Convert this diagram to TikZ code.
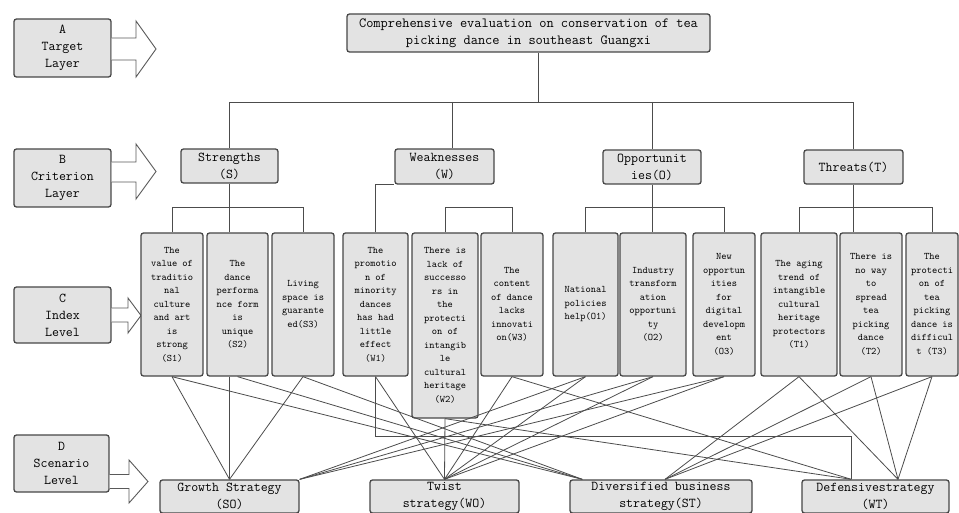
\documentclass[tikz,border=0pt]{standalone}
\usetikzlibrary{calc}
\begin{document}
\begin{tikzpicture}[x=1pt,y=-1pt,
  bx/.style={draw=black!72, fill=black!11, line width=1.3pt, rounded corners=2.5pt, inner sep=0pt, align=center},
  big/.style={bx, font=\ttfamily\fontsize{13.5}{17}\selectfont},
  ibox/.style={bx, font=\ttfamily\fontsize{10}{13.5}\selectfont, minimum height=143pt},
  ln/.style={draw=black!70, line width=0.8pt},
  blk/.style={draw=black!65, fill=white, line width=0.9pt, line join=miter}]
\useasboundingbox (0,0) rectangle (959,513);
% layer labels
\node[big, minimum width=97pt, minimum height=58pt] (la) at (62.5,48) {A\\Target\\Layer};
\node[big, minimum width=97pt, minimum height=58pt] (lb) at (62.5,178) {B\\Criterion\\Layer};
\node[big, minimum width=97pt, minimum height=56pt] (lc) at (62.5,315) {C\\Index\\Level};
\node[big, minimum width=95pt, minimum height=57pt] (ld) at (61.5,463.5) {D\\Scenario\\Level};
% block arrows
\draw[blk] (la.east |- 0,38) -- (136,38) -- (136,21) -- (156,49) -- (136,77) -- (136,60) -- (la.east |- 0,60);
\draw[blk] (lb.east |- 0,162) -- (136,162) -- (136,144) -- (156,171.5) -- (136,199) -- (136,182) -- (lb.east |- 0,182);
\draw[blk] (lc.east |- 0,308) -- (128,308) -- (128,298) -- (141,315.5) -- (128,333) -- (128,322) -- (lc.east |- 0,322);
\draw[blk] (ld.east |- 0,474.5) -- (129,474.5) -- (129,460) -- (148,481.5) -- (129,503) -- (129,488.5) -- (ld.east |- 0,488.5);
% target
\node[big, font=\ttfamily\fontsize{14}{17}\selectfont, minimum width=363pt, minimum height=38pt] (top) at (528.5,33) {Comprehensive evaluation on conservation of tea\\picking dance in southeast Guangxi};
% criteria
\node[big, minimum width=97pt, minimum height=34pt] (crS) at (229.5,166) {Strengths\\(S)};
\node[big, minimum width=99pt, minimum height=35pt] (crW) at (444.5,166.5) {Weaknesses\\(W)};
\node[big, minimum width=98pt, minimum height=34pt] (crO) at (652,167) {Opportunit\\ies(O)};
\node[big, minimum width=99pt, minimum height=34pt] (crT) at (853.5,167) {Threats(T)};
% index boxes
\node[ibox, minimum width=62pt] (s1) at (172,304.5) {The\\value of\\traditio\\nal\\culture\\and art\\is\\strong\\(S1)};
\node[ibox, minimum width=61pt] (s2) at (237.5,304.5) {The\\dance\\performa\\nce form\\is\\unique\\(S2)};
\node[ibox, minimum width=62pt] (s3) at (303,304.5) {Living\\space is\\guarante\\ed(S3)};
\node[ibox, minimum width=65pt] (w1) at (375.5,304.5) {The\\promotio\\n of\\minority\\dances\\has had\\little\\effect\\(W1)};
\node[ibox, minimum width=66pt, minimum height=185pt] (w2) at (445,325.5) {There is\\lack of\\successo\\rs in\\the\\protecti\\on of\\intangib\\le\\cultural\\heritage\\(W2)};
\node[ibox, minimum width=62pt] (w3) at (512,304.5) {The\\content\\of dance\\lacks\\innovati\\on(W3)};
\node[ibox, minimum width=65pt] (o1) at (585.5,304.5) {National\\policies\\help(O1)};
\node[ibox, minimum width=66pt] (o2) at (653,304.5) {Industry\\transform\\ation\\opportuni\\ty\\(O2)};
\node[ibox, minimum width=62pt] (o3) at (724,304.5) {New\\opportun\\ities\\for\\digital\\developm\\ent\\(O3)};
\node[ibox, minimum width=76pt] (t1) at (799,304.5) {The aging\\trend of\\intangible\\cultural\\heritage\\protectors\\(T1)};
\node[ibox, minimum width=62pt] (t2) at (871,304.5) {There is\\no way\\to\\spread\\tea\\picking\\dance\\(T2)};
\node[ibox, minimum width=52pt] (t3) at (932,304.5) {The\\protecti\\on of\\tea\\picking\\dance is\\difficul\\t (T3)};
% scenario boxes
\node[big, minimum width=139pt, minimum height=33pt] (so) at (229.5,496.5) {Growth Strategy\\(SO)};
\node[big, minimum width=149pt, minimum height=33pt] (wo) at (444.5,496.5) {Twist\\strategy(WO)};
\node[big, minimum width=182pt, minimum height=33pt] (st) at (661,496.5) {Diversified business\\strategy(ST)};
\node[big, minimum width=147pt, minimum height=33pt] (wt) at (875.5,496.5) {Defensivestrategy\\(WT)};
% helper coordinates
\coordinate (hb) at (0,102);
\coordinate (sb) at (0,207);
\coordinate (ob) at (0,436);
\coordinate (topx) at ($(top.south)+(9.5,0)$);
\coordinate (wx) at ($(crW.north)+(7.5,0)$);
\coordinate (soA) at (so.north);
\coordinate (soB) at (so.north east);
\coordinate (woA) at (wo.north);
\coordinate (stA) at ($(st.north west)+(13,0)$);
\coordinate (stB) at ($(st.north)+(4,0)$);
\coordinate (wtA) at ($(wt.north west)+(50,0)$);
\coordinate (wtB) at ($(wt.north)+(22.5,0)$);
% tree connectors
\draw[ln] (topx) -- (topx |- hb);
\draw[ln] (crS.north) -- (crS.north |- hb) -- (crT.north |- hb) -- (crT.north);
\draw[ln] (wx |- hb) -- (wx);
\draw[ln] (crO.north |- hb) -- (crO.north);
\draw[ln] (crS.south) -- (crS.south |- s2.north);
\draw[ln] (s1.north) -- (s1.north |- sb) -- (s3.north |- sb) -- (s3.north);
\draw[ln] (w1.north) -- (w1.north |- crW.south) -- (crW.south west);
\draw[ln] (w2.north) -- (w2.north |- sb) -- (w3.north |- sb) -- (w3.north);
\draw[ln] (crO.south) -- (crO.south |- o2.north);
\draw[ln] (o1.north) -- (o1.north |- sb) -- (o3.north |- sb) -- (o3.north);
\draw[ln] (crT.south) -- (crT.south |- t2.north);
\draw[ln] (t1.north) -- (t1.north |- sb) -- (t3.north |- sb) -- (t3.north);
% index to scenario
\draw[ln] (s1.south) -- (soA);
\draw[ln] (s2.south -| soA) -- (soA);
\draw[ln] (s3.south) -- (soA);
\draw[ln] (s1.south) -- (stA);
\draw[ln] (s2.south) -- (stA);
\draw[ln] (s3.south) -- (stA);
\draw[ln] (w1.south) -- (woA);
\draw[ln] (w2.south) -- (woA);
\draw[ln] (w3.south) -- (woA);
\draw[ln] (w1.south) -- (w1.south |- ob) -- (wtA |- ob) -- (wtA);
\draw[ln] (w2.south) -- (wtA);
\draw[ln] (w3.south) -- (wtA);
\draw[ln] (o1.south) -- (soB);
\draw[ln] (o2.south) -- (soB);
\draw[ln] (o3.south) -- (soB);
\draw[ln] (o1.south) -- (woA);
\draw[ln] (o2.south) -- (woA);
\draw[ln] (o3.south) -- (woA);
\draw[ln] (t1.south) -- (stB);
\draw[ln] (t2.south) -- (stB);
\draw[ln] (t3.south) -- (stB);
\draw[ln] (t1.south) -- (wtB);
\draw[ln] (t2.south) -- (wtB);
\draw[ln] (t3.south) -- (wtB);
\end{tikzpicture}
\end{document}
